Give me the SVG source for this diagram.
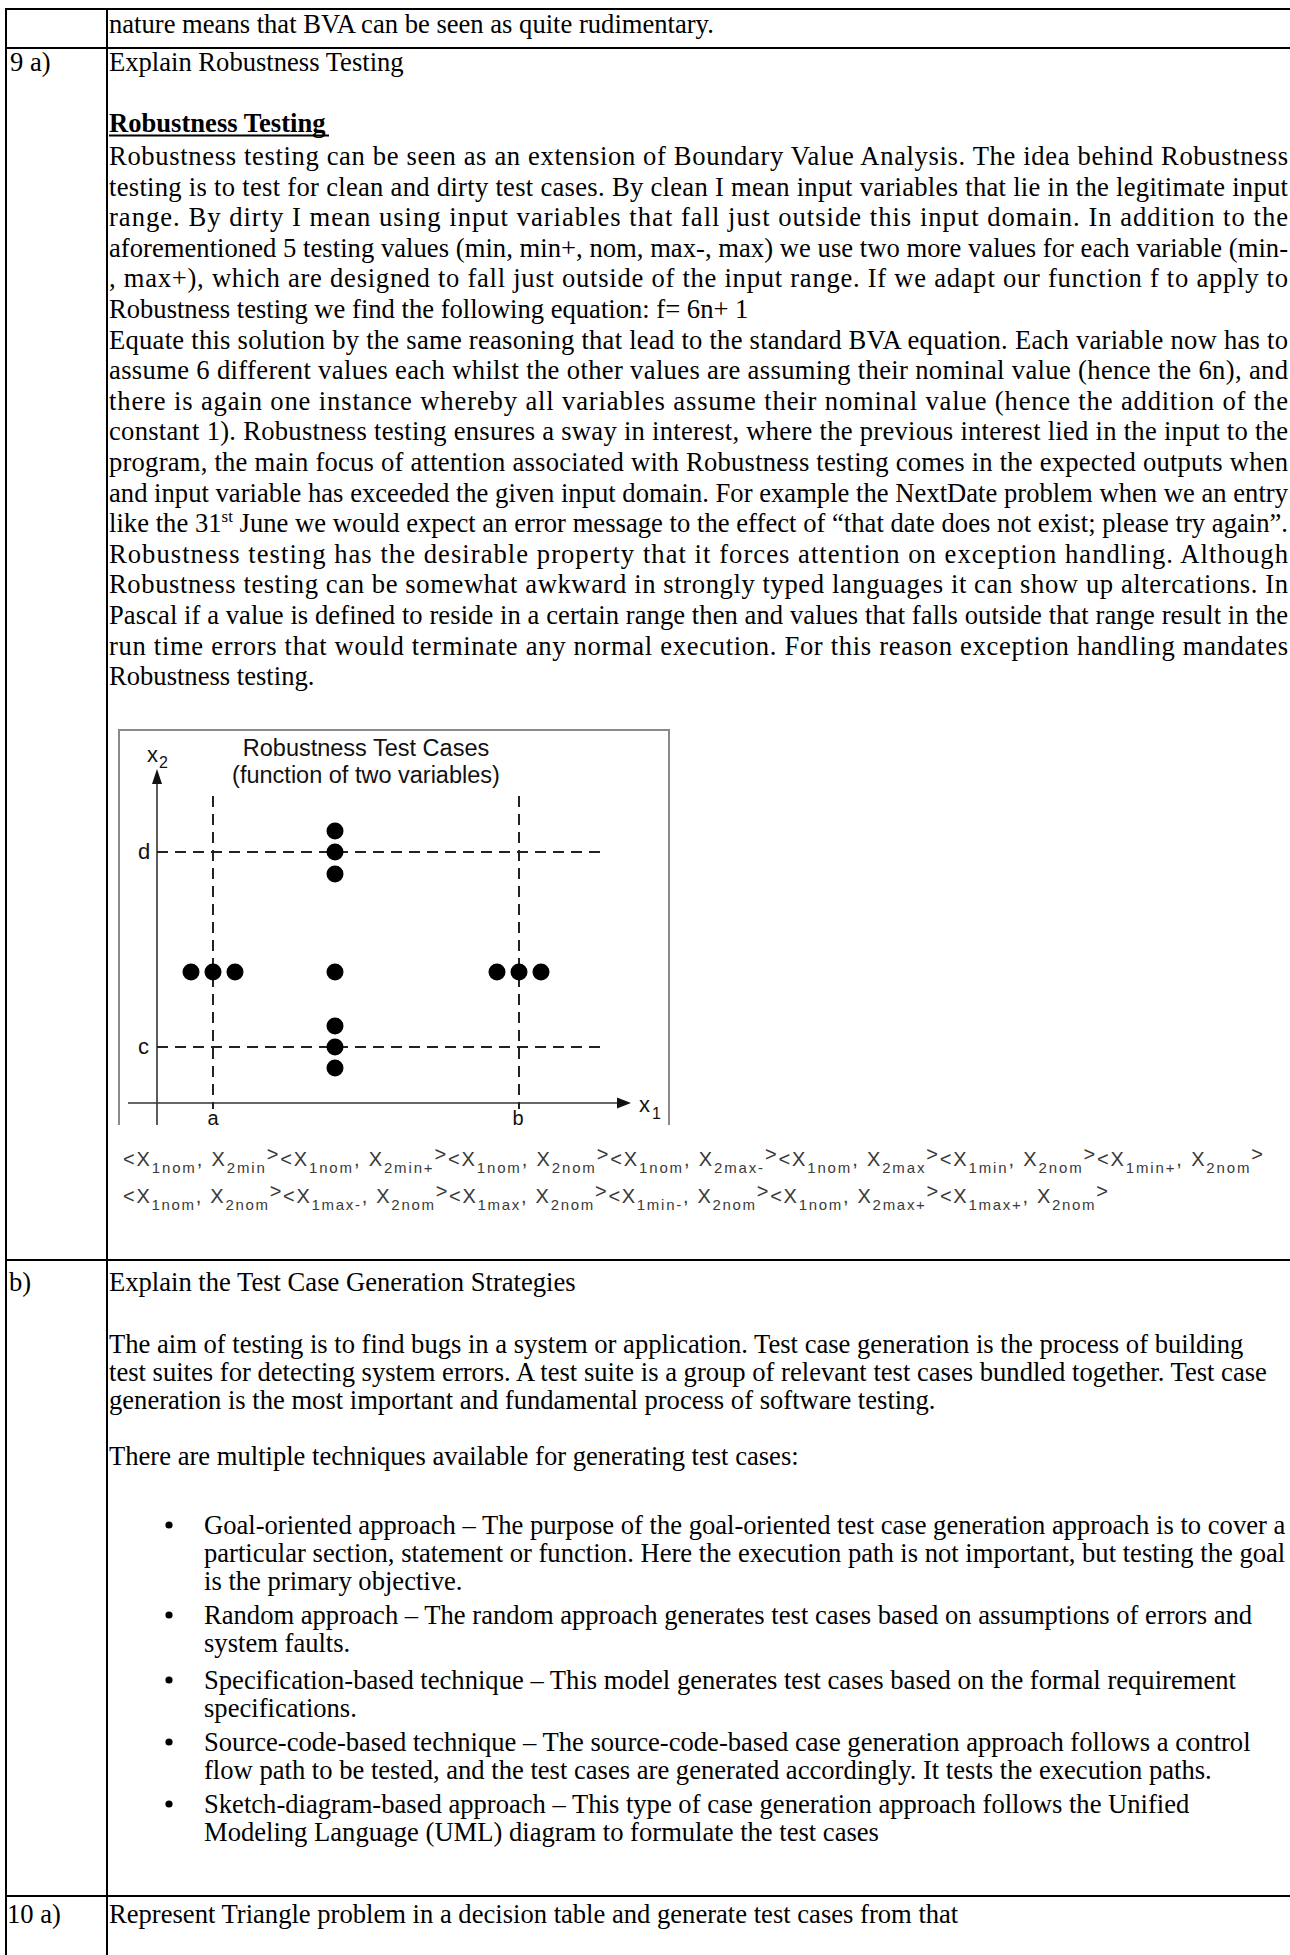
<svg xmlns="http://www.w3.org/2000/svg" width="1290" height="1955" viewBox="0 0 1290 1955">
  <defs>
    <style>
      .t{font-family:"Liberation Serif","Times New Roman",serif;font-size:26.6px;fill:#000}
      .hd{font-weight:bold}
      .grid line{stroke:#000;stroke-width:2}
      .s{font-family:"Liberation Sans",Arial,sans-serif;fill:#111}
      .dash{stroke:#222;stroke-width:2;stroke-dasharray:11 7;fill:none}
      .ax{stroke:#333;stroke-width:1.6;fill:none}
      .dot{fill:#000}
      .f{font-family:"Liberation Sans",Arial,sans-serif;font-size:20px;fill:#3a3a3a}
      .sub{font-size:15px}
    </style>
  </defs>
  <rect width="1290" height="1955" fill="#fff"/>

  <!-- table rules -->
  <g id="grid" class="grid">
    <line x1="5" y1="9" x2="1290" y2="9"/>
    <line x1="5" y1="48" x2="1290" y2="48"/>
    <line x1="5" y1="1260" x2="1290" y2="1260"/>
    <line x1="5" y1="1896" x2="1290" y2="1896"/>
    <line x1="6" y1="8" x2="6" y2="1955"/>
    <line x1="107" y1="8" x2="107" y2="1955"/>
  </g>

  <!-- carried-over line from the previous row -->
  <g id="row-prev">
    <text class="t" x="109" y="33">nature means that BVA can be seen as quite rudimentary.</text>
  </g>

  <!-- question 9 a -->
  <g id="row-9a">
    <text class="t" x="10" y="70.6">9 a)</text>
    <text class="t" x="109" y="70.6">Explain Robustness Testing</text>
    <text class="t hd" x="109" y="132">Robustness Testing</text>
    <line x1="109" y1="135.5" x2="329" y2="135.5" stroke="#000" stroke-width="2"/>

    <g id="para">
      <text class="t" x="109" y="165" textLength="1179" lengthAdjust="spacing">Robustness testing can be seen as an extension of Boundary Value Analysis. The idea behind Robustness</text>
      <text class="t" x="109" y="195.6" textLength="1179" lengthAdjust="spacing">testing is to test for clean and dirty test cases. By clean I mean input variables that lie in the legitimate input</text>
      <text class="t" x="109" y="226.2" textLength="1179" lengthAdjust="spacing">range. By dirty I mean using input variables that fall just outside this input domain. In addition to the</text>
      <text class="t" x="109" y="256.8" textLength="1179" lengthAdjust="spacing">aforementioned 5 testing values (min, min+, nom, max-, max) we use two more values for each variable (min-</text>
      <text class="t" x="109" y="287.4" textLength="1179" lengthAdjust="spacing">, max+), which are designed to fall just outside of the input range. If we adapt our function f to apply to</text>
      <text class="t" x="109" y="318">Robustness testing we find the following equation: f= 6n+ 1</text>
      <text class="t" x="109" y="348.6" textLength="1179" lengthAdjust="spacing">Equate this solution by the same reasoning that lead to the standard BVA equation. Each variable now has to</text>
      <text class="t" x="109" y="379.2" textLength="1179" lengthAdjust="spacing">assume 6 different values each whilst the other values are assuming their nominal value (hence the 6n), and</text>
      <text class="t" x="109" y="409.8" textLength="1179" lengthAdjust="spacing">there is again one instance whereby all variables assume their nominal value (hence the addition of the</text>
      <text class="t" x="109" y="440.4" textLength="1179" lengthAdjust="spacing">constant 1). Robustness testing ensures a sway in interest, where the previous interest lied in the input to the</text>
      <text class="t" x="109" y="471" textLength="1179" lengthAdjust="spacing">program, the main focus of attention associated with Robustness testing comes in the expected outputs when</text>
      <text class="t" x="109" y="501.6" textLength="1179" lengthAdjust="spacing">and input variable has exceeded the given input domain. For example the NextDate problem when we an entry</text>
      <text class="t" x="109" y="532.2" textLength="1179" lengthAdjust="spacing">like the 31<tspan dy="-10" font-size="17">st</tspan><tspan dy="10"> June we would expect an error message to the effect of “that date does not exist; please try again”.</tspan></text>
      <text class="t" x="109" y="562.8" textLength="1179" lengthAdjust="spacing">Robustness testing has the desirable property that it forces attention on exception handling. Although</text>
      <text class="t" x="109" y="593.4" textLength="1179" lengthAdjust="spacing">Robustness testing can be somewhat awkward in strongly typed languages it can show up altercations. In</text>
      <text class="t" x="109" y="624" textLength="1179" lengthAdjust="spacing">Pascal if a value is defined to reside in a certain range then and values that falls outside that range result in the</text>
      <text class="t" x="109" y="654.6" textLength="1179" lengthAdjust="spacing">run time errors that would terminate any normal execution. For this reason exception handling mandates</text>
      <text class="t" x="109" y="685.2">Robustness testing.</text>
    </g>

    <!-- robustness test case chart -->
    <g id="chart">
      <path d="M119,1125 V730 H669 V1125" fill="none" stroke="#8a8a8a" stroke-width="2"/>
      <text class="s" x="366" y="756" font-size="23.5" text-anchor="middle">Robustness Test Cases</text>
      <text class="s" x="366" y="783" font-size="23.5" text-anchor="middle">(function of two variables)</text>

      <!-- axes -->
      <line class="ax" x1="157" y1="782" x2="157" y2="1125"/>
      <polygon points="157,769 152,784 162,784" fill="#111"/>
      <line class="ax" x1="128" y1="1103" x2="618" y2="1103"/>
      <polygon points="631,1103 617,1097.5 617,1108.5" fill="#111"/>

      <!-- boundary lines -->
      <line class="dash" x1="213" y1="796" x2="213" y2="1109"/>
      <line class="dash" x1="519" y1="796" x2="519" y2="1109"/>
      <line class="dash" x1="157" y1="852" x2="604" y2="852"/>
      <line class="dash" x1="157" y1="1047" x2="604" y2="1047"/>

      <!-- test points -->
      <circle class="dot" cx="335" cy="831" r="8.5"/>
      <circle class="dot" cx="335" cy="852" r="8.5"/>
      <circle class="dot" cx="335" cy="874" r="8.5"/>
      <circle class="dot" cx="191" cy="972" r="8.5"/>
      <circle class="dot" cx="213" cy="972" r="8.5"/>
      <circle class="dot" cx="235" cy="972" r="8.5"/>
      <circle class="dot" cx="335" cy="972" r="8.5"/>
      <circle class="dot" cx="497" cy="972" r="8.5"/>
      <circle class="dot" cx="519" cy="972" r="8.5"/>
      <circle class="dot" cx="541" cy="972" r="8.5"/>
      <circle class="dot" cx="335" cy="1026" r="8.5"/>
      <circle class="dot" cx="335" cy="1047" r="8.5"/>
      <circle class="dot" cx="335" cy="1068" r="8.5"/>

      <!-- axis labels -->
      <text class="s" x="147" y="762" font-size="22">x</text>
      <text class="s" x="159" y="768" font-size="16">2</text>
      <text class="s" x="138" y="859" font-size="22">d</text>
      <text class="s" x="138" y="1054" font-size="22">c</text>
      <text class="s" x="213" y="1125" font-size="20" text-anchor="middle">a</text>
      <text class="s" x="518" y="1125" font-size="20" text-anchor="middle">b</text>
      <text class="s" x="639" y="1112" font-size="22">x</text>
      <text class="s" x="652" y="1119" font-size="16">1</text>
    </g>

    <!-- list of robustness test cases -->
    <g id="cases">
      <text class="f" x="123" y="1166" textLength="1140" lengthAdjust="spacing">&lt;X<tspan class="sub" dy="7">1nom</tspan><tspan dy="-7">, X</tspan><tspan class="sub" dy="7">2min</tspan><tspan dy="-12">&gt;</tspan><tspan dy="5">&lt;X</tspan><tspan class="sub" dy="7">1nom</tspan><tspan dy="-7">, X</tspan><tspan class="sub" dy="7">2min+</tspan><tspan dy="-12">&gt;</tspan><tspan dy="5">&lt;X</tspan><tspan class="sub" dy="7">1nom</tspan><tspan dy="-7">, X</tspan><tspan class="sub" dy="7">2nom</tspan><tspan dy="-12">&gt;</tspan><tspan dy="5">&lt;X</tspan><tspan class="sub" dy="7">1nom</tspan><tspan dy="-7">, X</tspan><tspan class="sub" dy="7">2max-</tspan><tspan dy="-12">&gt;</tspan><tspan dy="5">&lt;X</tspan><tspan class="sub" dy="7">1nom</tspan><tspan dy="-7">, X</tspan><tspan class="sub" dy="7">2max</tspan><tspan dy="-12">&gt;</tspan><tspan dy="5">&lt;X</tspan><tspan class="sub" dy="7">1min</tspan><tspan dy="-7">, X</tspan><tspan class="sub" dy="7">2nom</tspan><tspan dy="-12">&gt;</tspan><tspan dy="5">&lt;X</tspan><tspan class="sub" dy="7">1min+</tspan><tspan dy="-7">, X</tspan><tspan class="sub" dy="7">2nom</tspan><tspan dy="-12">&gt;</tspan></text>
      <text class="f" x="123" y="1203" textLength="985" lengthAdjust="spacing">&lt;X<tspan class="sub" dy="7">1nom</tspan><tspan dy="-7">, X</tspan><tspan class="sub" dy="7">2nom</tspan><tspan dy="-12">&gt;</tspan><tspan dy="5">&lt;X</tspan><tspan class="sub" dy="7">1max-</tspan><tspan dy="-7">, X</tspan><tspan class="sub" dy="7">2nom</tspan><tspan dy="-12">&gt;</tspan><tspan dy="5">&lt;X</tspan><tspan class="sub" dy="7">1max</tspan><tspan dy="-7">, X</tspan><tspan class="sub" dy="7">2nom</tspan><tspan dy="-12">&gt;</tspan><tspan dy="5">&lt;X</tspan><tspan class="sub" dy="7">1min-</tspan><tspan dy="-7">, X</tspan><tspan class="sub" dy="7">2nom</tspan><tspan dy="-12">&gt;</tspan><tspan dy="5">&lt;X</tspan><tspan class="sub" dy="7">1nom</tspan><tspan dy="-7">, X</tspan><tspan class="sub" dy="7">2max+</tspan><tspan dy="-12">&gt;</tspan><tspan dy="5">&lt;X</tspan><tspan class="sub" dy="7">1max+</tspan><tspan dy="-7">, X</tspan><tspan class="sub" dy="7">2nom</tspan><tspan dy="-12">&gt;</tspan></text>
    </g>
  </g>

  <!-- question 9 b -->
  <g id="row-9b">
    <text class="t" x="9" y="1291">b)</text>
    <text class="t" x="109" y="1291">Explain the Test Case Generation Strategies</text>
    <text class="t" x="109" y="1353">The aim of testing is to find bugs in a system or application. Test case generation is the process of building</text>
    <text class="t" x="109" y="1381">test suites for detecting system errors. A test suite is a group of relevant test cases bundled together. Test case</text>
    <text class="t" x="109" y="1409">generation is the most important and fundamental process of software testing.</text>
    <text class="t" x="109" y="1465">There are multiple techniques available for generating test cases:</text>

    <g id="bullets">
      <circle cx="169" cy="1525" r="3.6"/>
      <text class="t" x="204" y="1534">Goal-oriented approach – The purpose of the goal-oriented test case generation approach is to cover a</text>
      <text class="t" x="204" y="1562">particular section, statement or function. Here the execution path is not important, but testing the goal</text>
      <text class="t" x="204" y="1590">is the primary objective.</text>
      <circle cx="169" cy="1615" r="3.6"/>
      <text class="t" x="204" y="1624">Random approach – The random approach generates test cases based on assumptions of errors and</text>
      <text class="t" x="204" y="1652">system faults.</text>
      <circle cx="169" cy="1680" r="3.6"/>
      <text class="t" x="204" y="1689">Specification-based technique – This model generates test cases based on the formal requirement</text>
      <text class="t" x="204" y="1717">specifications.</text>
      <circle cx="169" cy="1742" r="3.6"/>
      <text class="t" x="204" y="1751">Source-code-based technique – The source-code-based case generation approach follows a control</text>
      <text class="t" x="204" y="1779">flow path to be tested, and the test cases are generated accordingly. It tests the execution paths.</text>
      <circle cx="169" cy="1804" r="3.6"/>
      <text class="t" x="204" y="1813">Sketch-diagram-based approach – This type of case generation approach follows the Unified</text>
      <text class="t" x="204" y="1841">Modeling Language (UML) diagram to formulate the test cases</text>
    </g>
  </g>

  <!-- question 10 a -->
  <g id="row-10a">
    <text class="t" x="7" y="1923">10 a)</text>
    <text class="t" x="109" y="1923">Represent Triangle problem in a decision table and generate test cases from that</text>
  </g>
</svg>
